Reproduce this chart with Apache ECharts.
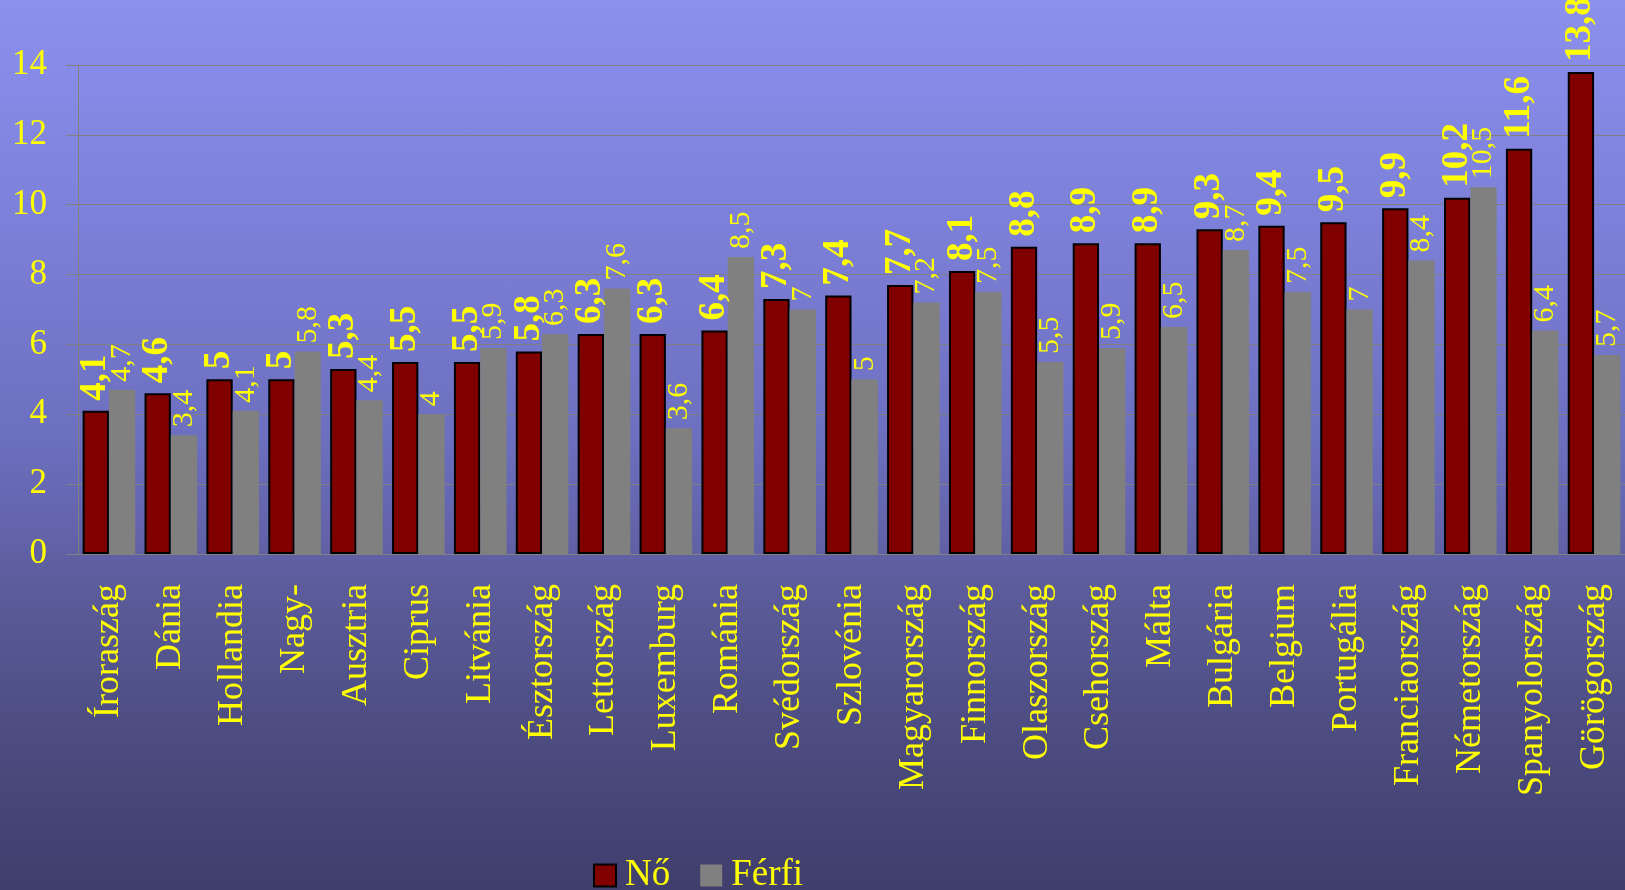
<!DOCTYPE html>
<html>
<head>
<meta charset="utf-8">
<script src="https://cdn.jsdelivr.net/npm/echarts@6/dist/echarts.min.js"></script>
<style>
html,body{margin:0;padding:0;}
#c{width:1625px;height:890px;background:linear-gradient(to bottom,#8C90EE 0%,#7D80D8 25%,#6C6EBE 50%,#5A5A98 68%,#4A4A7E 85%,#3F3E6C 100%);}
</style>
</head>
<body>
<div id="c"></div>
<script>
const categories = ['Íroraszág','Dánia','Hollandia','Nagy-','Ausztria','Ciprus','Litvánia','Észtország','Lettország','Luxemburg','Románia','Svédország','Szlovénia','Magyarország','Finnország','Olaszország','Csehország','Málta','Bulgária','Belgium','Portugália','Franciaország','Németország','Spanyolország','Görögország'];
const noValues = [4.1,4.6,5,5,5.3,5.5,5.5,5.8,6.3,6.3,6.4,7.3,7.4,7.7,8.1,8.8,8.9,8.9,9.3,9.4,9.5,9.9,10.2,11.6,13.8];
const ferfiValues = [4.7,3.4,4.1,5.8,4.4,4,5.9,6.3,7.6,3.6,8.5,7,5,7.2,7.5,5.5,5.9,6.5,8.7,7.5,7,8.4,10.5,6.4,5.7];
const seriesNames = ['Nő','Férfi'];

const fmt = p => String(p.value).replace('.', ',');
const chart = echarts.init(document.getElementById('c'));
chart.setOption({
  backgroundColor: 'transparent',
  animation: false,
  grid: {left: 78, top: 65, width: 1555, height: 489, containLabel: false},
  legend: {
    data: seriesNames,
    top: 852, left: 588,
    icon: 'rect',
    itemWidth: 22, itemHeight: 22, itemGap: 30,
    textStyle: {color: '#FFFF00', fontFamily: 'Liberation Serif', fontSize: 37, padding: [0, 0, 0, 4]}
  },
  xAxis: {
    type: 'category',
    data: categories,
    axisLine: {lineStyle: {color: '#808080', width: 1}},
    axisTick: {length: 12, lineStyle: {color: '#808080'}},
    axisLabel: {rotate: 90, margin: 30, color: '#FFFF00', fontFamily: 'Liberation Serif', fontSize: 36, interval: 0}
  },
  yAxis: {
    type: 'value', min: 0, max: 14, interval: 2,
    axisLine: {show: true, lineStyle: {color: '#808080'}},
    axisTick: {show: true, length: 12, lineStyle: {color: '#808080'}},
    splitLine: {lineStyle: {color: '#808080', width: 1}},
    axisLabel: {margin: 31, color: '#FFFF00', fontFamily: 'Liberation Serif', fontSize: 35}
  },
  series: [
    {
      name: seriesNames[0], type: 'bar', data: noValues,
      barGap: '0%', barCategoryGap: '15%',
      itemStyle: {color: '#800000', borderColor: '#000000', borderWidth: 2},
      label: {show: true, position: 'top', rotate: 90, align: 'left', verticalAlign: 'middle', distance: 10,
        formatter: fmt, color: '#FFFF00', fontFamily: 'Liberation Serif', fontWeight: 'bold', fontSize: 37}
    },
    {
      name: seriesNames[1], type: 'bar', data: ferfiValues,
      itemStyle: {color: '#808080'},
      label: {show: true, position: 'top', rotate: 90, align: 'left', verticalAlign: 'middle', distance: 8,
        formatter: fmt, color: '#FFFF00', fontFamily: 'Liberation Serif', fontSize: 30}
    }
  ]
});
</script>
</body>
</html>
